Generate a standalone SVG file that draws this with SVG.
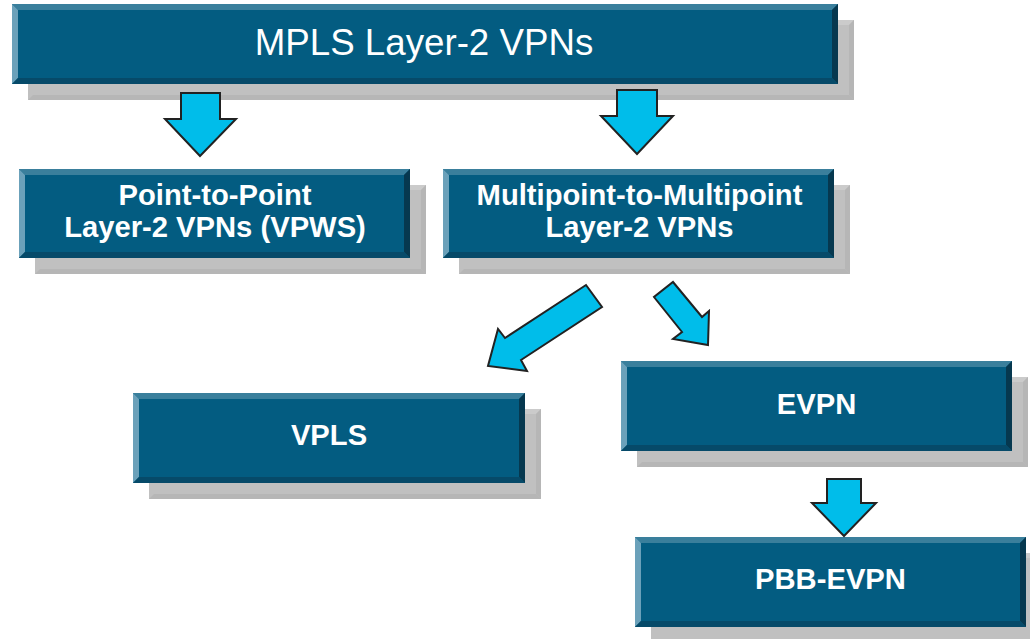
<svg xmlns="http://www.w3.org/2000/svg" width="1030" height="639" viewBox="0 0 1030 639">
  <style>
    .sh { fill: #c0c0c0; }
    .sh-hi { fill: #cbcbcb; }
    .sh-lo { fill: #b6b6b6; }
    .face { fill: #035c81; }
    .bv-top { fill: #3a7f9c; }
    .bv-left { fill: #6ba1ba; }
    .bv-right { fill: #06384f; }
    .bv-bottom { fill: #064a69; }
    .title { font-family: "Liberation Sans", Arial, sans-serif; font-size: 36.7px; fill: #ffffff; text-anchor: middle; }
    .label { font-family: "Liberation Sans", Arial, sans-serif; font-size: 29.2px; font-weight: bold; fill: #ffffff; text-anchor: middle; }
    .arrow { fill: #00bdea; stroke: #222222; stroke-width: 2; stroke-linejoin: miter; }
  </style>

  <!-- MPLS Layer-2 VPNs (x12 y4 w826 h80) -->
  <g id="node-mpls-l2vpn">
    <rect class="sh" x="28" y="20" width="826" height="80"/>
    <polygon class="sh-hi" points="28,20 854,20 849,25 33,25"/>
    <polygon class="sh-lo" points="854,20 854,100 849,95 849,25"/>
    <polygon class="sh-lo" points="28,100 33,95 849,95 854,100"/>
    <rect class="face" x="12" y="4" width="826" height="80"/>
    <polygon class="bv-top" points="12,4 838,4 832,10 18,10"/>
    <polygon class="bv-left" points="12,4 18,10 18,78 12,84"/>
    <polygon class="bv-right" points="838,4 838,84 832,78 832,10"/>
    <polygon class="bv-bottom" points="12,84 18,78 832,78 838,84"/>
    <text class="title" x="424" y="55">MPLS Layer-2 VPNs</text>
  </g>

  <!-- Point-to-Point (x19 y169 w391 h89) -->
  <g id="node-vpws">
    <rect class="sh" x="35" y="185" width="391" height="89"/>
    <polygon class="sh-hi" points="35,185 426,185 421,190 40,190"/>
    <polygon class="sh-lo" points="426,185 426,274 421,269 421,190"/>
    <polygon class="sh-lo" points="35,274 40,269 421,269 426,274"/>
    <rect class="face" x="19" y="169" width="391" height="89"/>
    <polygon class="bv-top" points="19,169 410,169 404,175 25,175"/>
    <polygon class="bv-left" points="19,169 25,175 25,252 19,258"/>
    <polygon class="bv-right" points="410,169 410,258 404,252 404,175"/>
    <polygon class="bv-bottom" points="19,258 25,252 404,252 410,258"/>
    <text class="label" x="215" y="205">Point-to-Point</text>
    <text class="label" x="215" y="237">Layer-2 VPNs (VPWS)</text>
  </g>

  <!-- Multipoint-to-Multipoint (x443 y169 w391 h89) -->
  <g id="node-mp2mp">
    <rect class="sh" x="459" y="185" width="391" height="89"/>
    <polygon class="sh-hi" points="459,185 850,185 845,190 464,190"/>
    <polygon class="sh-lo" points="850,185 850,274 845,269 845,190"/>
    <polygon class="sh-lo" points="459,274 464,269 845,269 850,274"/>
    <rect class="face" x="443" y="169" width="391" height="89"/>
    <polygon class="bv-top" points="443,169 834,169 828,175 449,175"/>
    <polygon class="bv-left" points="443,169 449,175 449,252 443,258"/>
    <polygon class="bv-right" points="834,169 834,258 828,252 828,175"/>
    <polygon class="bv-bottom" points="443,258 449,252 828,252 834,258"/>
    <text class="label" x="639.5" y="205">Multipoint-to-Multipoint</text>
    <text class="label" x="639.5" y="237">Layer-2 VPNs</text>
  </g>

  <!-- VPLS (x133 y393 w392 h90) -->
  <g id="node-vpls">
    <rect class="sh" x="149" y="409" width="392" height="90"/>
    <polygon class="sh-hi" points="149,409 541,409 536,414 154,414"/>
    <polygon class="sh-lo" points="541,409 541,499 536,494 536,414"/>
    <polygon class="sh-lo" points="149,499 154,494 536,494 541,499"/>
    <rect class="face" x="133" y="393" width="392" height="90"/>
    <polygon class="bv-top" points="133,393 525,393 519,399 139,399"/>
    <polygon class="bv-left" points="133,393 139,399 139,477 133,483"/>
    <polygon class="bv-right" points="525,393 525,483 519,477 519,399"/>
    <polygon class="bv-bottom" points="133,483 139,477 519,477 525,483"/>
    <text class="label" x="329" y="445">VPLS</text>
  </g>

  <!-- EVPN (x621 y361 w391 h90) -->
  <g id="node-evpn">
    <rect class="sh" x="637" y="377" width="391" height="90"/>
    <polygon class="sh-hi" points="637,377 1028,377 1023,382 642,382"/>
    <polygon class="sh-lo" points="1028,377 1028,467 1023,462 1023,382"/>
    <polygon class="sh-lo" points="637,467 642,462 1023,462 1028,467"/>
    <rect class="face" x="621" y="361" width="391" height="90"/>
    <polygon class="bv-top" points="621,361 1012,361 1006,367 627,367"/>
    <polygon class="bv-left" points="621,361 627,367 627,445 621,451"/>
    <polygon class="bv-right" points="1012,361 1012,451 1006,445 1006,367"/>
    <polygon class="bv-bottom" points="621,451 627,445 1006,445 1012,451"/>
    <text class="label" x="816.5" y="414">EVPN</text>
  </g>

  <!-- PBB-EVPN (x635 y537 w391 h90) -->
  <g id="node-pbb-evpn">
    <rect class="sh" x="651" y="553" width="391" height="90"/>
    <polygon class="sh-hi" points="651,553 1042,553 1037,558 656,558"/>
    <rect class="face" x="635" y="537" width="391" height="90"/>
    <polygon class="bv-top" points="635,537 1026,537 1020,543 641,543"/>
    <polygon class="bv-left" points="635,537 641,543 641,621 635,627"/>
    <polygon class="bv-right" points="1026,537 1026,627 1020,621 1020,543"/>
    <polygon class="bv-bottom" points="635,627 641,621 1020,621 1026,627"/>
    <text class="label" x="830.5" y="589">PBB-EVPN</text>
  </g>

  <!-- block arrows between the boxes -->
  <g id="connectors">
    <polygon class="arrow" points="181,93 220,93 220,119 236,119 200,156 165,119 181,119"/>
    <polygon class="arrow" points="617,90 657,90 657,116 673,116 637,154 601,116 617,116"/>
    <polygon class="arrow" points="586,285 602,307 521,360 527,371 488,366 498,329 505,338"/>
    <polygon class="arrow" points="673,282 702,317 709,311 708,345 673,339 682,332 654,297"/>
    <polygon class="arrow" points="827,479 861,479 861,503 876,503 844,536 812,503 827,503"/>
  </g>
</svg>
